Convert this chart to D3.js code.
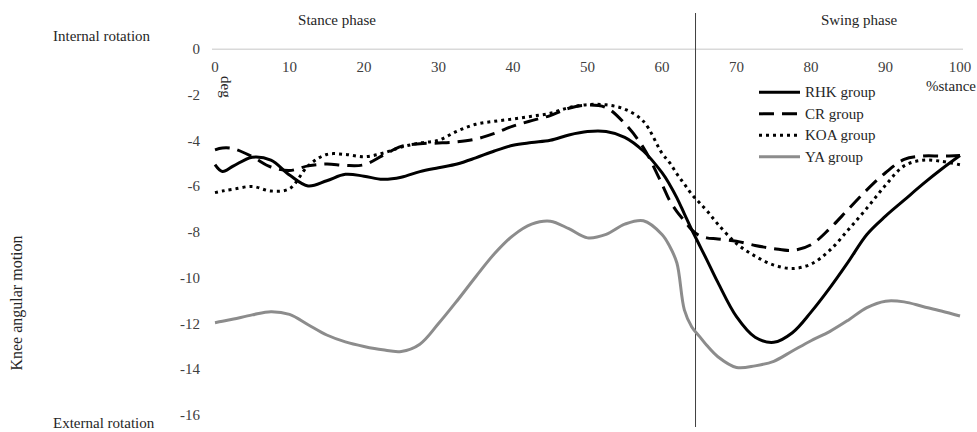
<!DOCTYPE html>
<html lang="en">
<head>
<meta charset="UTF-8">
<title>Knee angular motion</title>
<style>
    body { margin: 0; background: #fff; }
    svg text { font-family: "Liberation Serif", "Times New Roman", serif; fill: #262626; }
    .tick-label { font-size: 15px; fill: #404040; }
</style>
</head>
<body>
<svg id="chart" width="977" height="432"></svg>
<script src="https://d3js.org/d3.v7.min.js"></script>
<script>
// % of gait cycle
const pct = [0, 1, 2.5, 5, 7.5, 10, 12.5, 15, 17.5, 20, 22.5, 25, 27.5, 30, 32.5, 35, 37.5, 40,
    42.5, 45, 47.5, 50, 52.5, 55, 57.5, 60, 61, 62, 63, 64, 65, 66, 67.5, 70, 72.5, 75, 77.5,
    80, 82.5, 85, 87.5, 90, 92.5, 95, 97.5, 100];

const rhk = [-5.05, -5.35, -5.1, -4.72, -4.85, -5.5, -5.98, -5.75, -5.47, -5.55, -5.69, -5.6,
    -5.35, -5.18, -5.02, -4.75, -4.45, -4.2, -4.08, -3.98, -3.75, -3.6, -3.6, -3.85, -4.45,
    -5.4, -5.9, -6.5, -7.2, -7.9, -8.55, -9.2, -10.2, -11.7, -12.6, -12.82, -12.4, -11.5,
    -10.45, -9.3, -8.1, -7.3, -6.6, -5.9, -5.25, -4.65];

const cr = [-4.4, -4.32, -4.35, -4.7, -5.15, -5.3, -5.1, -5.02, -5.08, -5.05, -4.65, -4.25,
    -4.13, -4.1, -4.05, -3.93, -3.68, -3.36, -3.12, -2.9, -2.58, -2.44, -2.55, -3.25, -4.3,
    -5.9, -6.6, -7.1, -7.5, -7.9, -8.15, -8.25, -8.3, -8.4, -8.58, -8.72, -8.8, -8.55,
    -7.85, -7.0, -6.15, -5.4, -4.82, -4.67, -4.67, -4.65];

const koa = [-6.27, -6.2, -6.12, -6.0, -6.2, -6.1, -5.1, -4.6, -4.6, -4.7, -4.55, -4.28,
    -4.1, -3.98, -3.58, -3.28, -3.15, -3.05, -2.93, -2.8, -2.55, -2.42, -2.43, -2.62, -3.15,
    -4.55, -4.95, -5.45, -5.9, -6.35, -6.7, -7.05, -7.65, -8.5, -9.05, -9.44, -9.59, -9.4,
    -8.8, -7.9, -6.95, -5.95, -5.1, -4.85, -4.9, -5.05];

const ya = [-11.96, -11.9, -11.8, -11.62, -11.48, -11.6, -12.05, -12.5, -12.8, -13.0, -13.15,
    -13.22, -12.9, -12.0, -11.0, -9.95, -8.95, -8.15, -7.65, -7.52, -7.85, -8.25, -8.1, -7.65,
    -7.5, -8.1, -8.6, -9.35, -11.4, -12.15, -12.55, -12.95, -13.45, -13.92, -13.85, -13.65,
    -13.2, -12.75, -12.35, -11.85, -11.3, -11.02, -11.05, -11.25, -11.45, -11.67];

const seriesNames = ["RHK group", "CR group", "KOA group", "YA group"];
const xTicks = [0, 10, 20, 30, 40, 50, 60, 70, 80, 90, 100];
const yTicks = [0, -2, -4, -6, -8, -10, -12, -14, -16];
const swingStart = 64.5;

const styles = [
    { color: "#000", width: 3, dash: null },
    { color: "#000", width: 3, dash: "15,8" },
    { color: "#000", width: 3, dash: "3,4" },
    { color: "#8c8c8c", width: 3, dash: null }
];

const svg = d3.select("#chart");

const x = d3.scaleLinear().domain([0, 100]).range([215, 960]);
const y = d3.scaleLinear().domain([-16, 0]).range([415, 49.3]);

// horizontal axis at 0, labels underneath
svg.append("line")
    .attr("x1", 212).attr("x2", 963)
    .attr("y1", y(0)).attr("y2", y(0))
    .attr("stroke", "#d9d9d9").attr("stroke-width", 1.5);

svg.append("g").selectAll("text")
    .data(xTicks)
    .join("text")
    .attr("class", "tick-label")
    .attr("x", d => x(d))
    .attr("y", y(0) + 23)
    .attr("text-anchor", "middle")
    .text(d => d);

svg.append("g").selectAll("text")
    .data(yTicks)
    .join("text")
    .attr("class", "tick-label")
    .attr("x", 200)
    .attr("y", d => y(d) + 5)
    .attr("text-anchor", "end")
    .text(d => d);

// stance / swing divider
svg.append("line")
    .attr("x1", x(swingStart)).attr("x2", x(swingStart))
    .attr("y1", 13).attr("y2", 427)
    .attr("stroke", "#404040").attr("stroke-width", 1);

const line = d3.line()
    .x((d, i) => x(pct[i]))
    .y(d => y(d))
    .curve(d3.curveCatmullRom.alpha(0.5));

[rhk, cr, koa, ya].forEach((vals, i) => {
    const s = styles[i];
    svg.append("path")
        .datum(vals)
        .attr("fill", "none")
        .attr("stroke", s.color)
        .attr("stroke-width", s.width)
        .attr("stroke-dasharray", s.dash)
        .attr("d", line);
});

// legend
const legend = svg.append("g").selectAll("g")
    .data(seriesNames)
    .join("g")
    .attr("transform", (d, i) => "translate(759," + (92.3 + i * 21.5) + ")");

legend.append("line")
    .attr("x1", 0).attr("x2", 41)
    .attr("stroke", (d, i) => styles[i].color)
    .attr("stroke-width", (d, i) => styles[i].width)
    .attr("stroke-dasharray", (d, i) => styles[i].dash);

legend.append("text")
    .attr("x", 46).attr("y", 5)
    .style("font-size", "15px")
    .text(d => d);

// labels
svg.append("text").attr("x", 337).attr("y", 25).attr("text-anchor", "middle")
    .style("font-size", "15px").text("Stance phase");
svg.append("text").attr("x", 859).attr("y", 25).attr("text-anchor", "middle")
    .style("font-size", "15px").text("Swing phase");
svg.append("text").attr("x", 53).attr("y", 41)
    .style("font-size", "15px").text("Internal rotation");
svg.append("text").attr("x", 53).attr("y", 428)
    .style("font-size", "15px").text("External rotation");
svg.append("text").attr("x", 926).attr("y", 91)
    .style("font-size", "15px").text("%stance");
svg.append("text")
    .attr("transform", "translate(221,76) rotate(90)")
    .style("font-size", "15px").text("deg");
svg.append("text")
    .attr("transform", "translate(22,303) rotate(-90)")
    .attr("text-anchor", "middle")
    .style("font-size", "16px").text("Knee angular motion");
</script>
</body>
</html>
